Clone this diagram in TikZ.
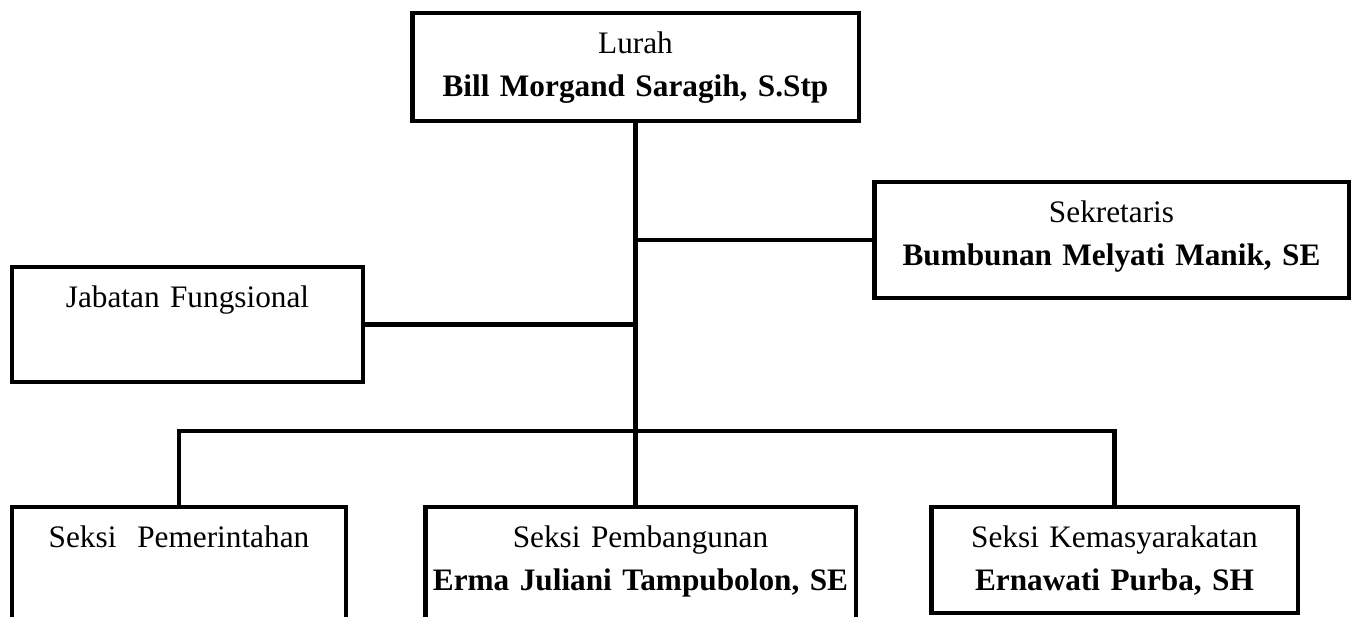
\documentclass[tikz,border=0pt]{standalone}
\usepackage{fontspec}
\setmainfont{Liberation Serif}

\begin{document}
\begin{tikzpicture}[x=0.02cm, y=-0.02cm,
	kotak/.style 2 args={draw, line width=2.8pt, inner sep=0pt, outer sep=0pt, anchor=north,
		text width=#1, text height=0.82cm, text depth=#2, align=center,
		font=\fontsize{17.8}{24.2}\selectfont},
	garis/.style={line width=2.8pt}]
	\useasboundingbox (0,0) rectangle (1352,617);
	\clip (0,0) rectangle (1352,617);
	% kotak jabatan
	\node[kotak={8.94cm}{1.34cm}] (lurah) at (635.5,13) {Lurah\\\textbf{Bill Morgand Saragih, S.Stp}};
	\node[kotak={9.5cm}{1.5cm}] (sekre) at (1111.5,182) {Sekretaris\\\textbf{Bumbunan Melyati Manik, SE}};
	\node[kotak={7.02cm}{1.48cm}] (fungsi) at (187.5,267) {Jabatan Fungsional};
	\node[kotak={6.68cm}{1.98cm}] (pemerintahan) at (179,507) {Seksi~~Pemerintahan};
	\node[kotak={8.62cm}{1.98cm}] (pembangunan) at (640.5,507) {Seksi Pembangunan\\\textbf{Erma Juliani Tampubolon, SE}};
	\node[kotak={7.34cm}{1.3cm}] (kemasy) at (1114.5,507) {Seksi Kemasyarakatan\\\textbf{Ernawati Purba, SH}};
	% garis penghubung
	\coordinate (bus) at (640,431);
	\draw[garis] (lurah.south) -- (lurah.south |- pembangunan.north);
	\draw[garis] (sekre.west) -- (sekre.west -| lurah.south);
	\draw[garis] (fungsi.east) -- (fungsi.east -| lurah.south);
	\draw[garis] (pemerintahan.north) -- (pemerintahan.north |- bus) -- (kemasy.north |- bus) -- (kemasy.north);
\end{tikzpicture}
\end{document}
